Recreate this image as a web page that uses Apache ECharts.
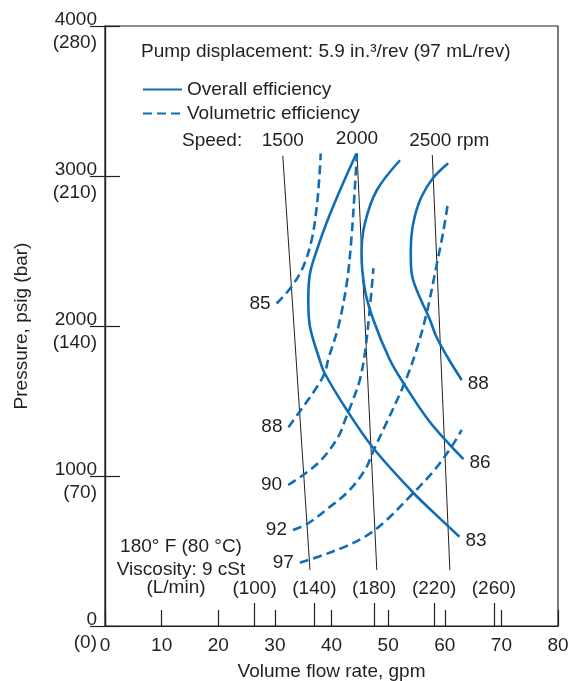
<!DOCTYPE html>
<html><head><meta charset="utf-8">
<script src="https://cdn.jsdelivr.net/npm/echarts@6/dist/echarts.min.js"></script>
<style>html,body{margin:0;padding:0;background:#fff}#c{width:569px;height:681px}</style>
</head><body><div id="c"></div>
<script>
// ---- data (gpm, psig) ----
const overall83 = [[44.4,3150],[41.5,2905],[39.1,2685],[37.4,2505],[36.2,2350],[35.9,2175],[36.2,1995],[37.9,1775],[38.8,1685],[42.7,1440],[47.4,1185],[54.4,890],[58.2,751],[62.6,595]];
const overall86 = [[52.1,3105],[48.0,2905],[45.9,2685],[45.3,2485],[45.9,2240],[47.4,2040],[50.3,1775],[52.7,1620],[57.1,1373],[60.9,1207],[63.3,1113]];
const overall88 = [[60.6,3085],[57.9,2985],[55.9,2862],[54.7,2730],[54.1,2595],[54.0,2462],[54.4,2307],[57.4,2040],[58.5,1930],[60.6,1785],[63.0,1640]];
const vol85 = [[30.3,2150],[32.9,2260],[35.0,2395],[36.5,2575],[37.4,2795],[37.9,3020],[38.1,3150]];
const vol88 = [[32.4,1325],[34.4,1430],[37.1,1575],[38.8,1685],[39.4,1775],[41.2,1995],[42.7,2285],[43.5,2575],[44.1,2905],[44.5,3150]];
const vol90 = [[32.35,940],[35.0,1007],[38.2,1107],[41.2,1262],[42.4,1373],[43.8,1507],[45.0,1640],[45.9,1820],[46.8,2130],[47.4,2385]];
const vol92 = [[33.2,640],[35.9,685],[39.4,785],[42.9,895],[45.9,1040],[47.6,1185],[49.4,1329],[52.9,1620],[55.0,1840],[56.8,2085],[58.5,2395],[59.7,2620],[60.6,2830]];
const vol97 = [[34.4,422],[37.7,462],[42.4,529],[45.9,595],[49.4,695],[54.4,885],[58.2,1040],[61.2,1195],[63.0,1307]];
const speed1500 = [[36.2,373],[31.4,3135]];
const speed2000 = [[48.0,373],[44.5,3150]];
const speed2500 = [[60.9,373],[57.8,3140]];
const speedLabels = ['1500','2000','2500 rpm'];
const overallLabels = ['83','86','88'];
const volLabels = ['85','88','90','92','97'];
const psiTicks = [0,1000,2000,3000,4000];
const barLabels = ['(0)','(70)','(140)','(210)','(280)'];
const lpmTicks = [100,140,180,220,260];
const LPM_PER_GPM = 3.7854;

const BLUE = '#0f6db5';
const INK = '#231f20';
const FONT = 'Liberation Sans';
const FS = 19;

function curve(name, pts, dashed, text, at) {
  return {
    type: 'line', name: name, smooth: 0.35, symbol: 'circle', symbolSize: 0, showSymbol: true,
    silent: true, animation: false,
    lineStyle: { color: BLUE, width: 2.6, type: dashed ? [9,5] : 'solid' },
    itemStyle: { color: BLUE },
    label: { show: false, color: INK, fontSize: FS, fontFamily: FONT },
    data: pts.map((p, i) => {
      const lab = (at === 'start' && i === 0) || (at === 'end' && i === pts.length - 1);
      return lab ? { value: p, label: { show: true, formatter: text,
        position: at === 'start' ? 'left' : 'right', distance: 6, offset: at === 'end' ? [0,4] : [0,0] } } : { value: p };
    })
  };
}
function speedLine(pts, text, off) {
  return {
    type: 'line', name: 'speed', symbol: 'circle', symbolSize: 0, showSymbol: true, silent: true, animation: false,
    lineStyle: { color: INK, width: 1 }, itemStyle: { color: INK },
    label: { show: false, color: INK, fontSize: FS, fontFamily: FONT },
    data: pts.map((p, i) => i === pts.length - 1 ?
      { value: p, label: { show: true, position: 'top', distance: 5, formatter: text, offset: off } } : { value: p })
  };
}

const series = [
  speedLine(speed1500, speedLabels[0], [0,0]),
  speedLine(speed2000, speedLabels[1], [0,0]),
  speedLine(speed2500, speedLabels[2], [17,0]),
  curve('Overall efficiency', overall83, false, overallLabels[0], 'end'),
  curve('Overall efficiency', overall86, false, overallLabels[1], 'end'),
  curve('Overall efficiency', overall88, false, overallLabels[2], 'end'),
  curve('Volumetric efficiency', vol85, true, volLabels[0], 'start'),
  curve('Volumetric efficiency', vol88, true, volLabels[1], 'start'),
  curve('Volumetric efficiency', vol90, true, volLabels[2], 'start'),
  curve('Volumetric efficiency', vol92, true, volLabels[3], 'start'),
  curve('Volumetric efficiency', vol97, true, volLabels[4], 'start')
];

const txt = { color: INK, fontSize: FS, fontFamily: FONT };
const axLine = { show: true, lineStyle: { color: INK, width: 1.2 } };

const option = {
  animation: false,
  backgroundColor: '#fff',
  title: { text: 'Pump displacement: 5.9 in.\u00b3/rev (97 mL/rev)', left: 141, top: 42, padding: 0,
    textStyle: { color: INK, fontSize: FS, fontWeight: 'normal', fontFamily: FONT } },
  legend: { data: ['Overall efficiency','Volumetric efficiency'], orient: 'vertical', left: 142, top: 80, padding: 0,
    itemWidth: 39, itemHeight: 18, itemGap: 5, selectedMode: false, itemStyle: { opacity: 0 },
    textStyle: Object.assign({ lineHeight: 19 }, txt) },
  grid: { left: 105, right: 11, top: 26, bottom: 55, show: true, borderColor: INK, borderWidth: 1.2,
    containLabel: false, outerBoundsMode: 'none' },
  xAxis: [
    { type: 'value', min: 0, max: 80, interval: 10, position: 'bottom',
      axisLine: axLine, axisTick: { inside: true, length: 16, lineStyle: { color: INK, width: 1.2 } },
      axisLabel: Object.assign({ margin: 10 }, txt), splitLine: { show: false },
      name: 'Volume flow rate, gpm', nameLocation: 'middle', nameGap: 36, nameTextStyle: txt },
    { type: 'value', min: 0, max: 80 * LPM_PER_GPM, position: 'bottom',
      axisLine: { show: false },
      axisTick: { show: true, inside: true, length: 23, customValues: lpmTicks, lineStyle: { color: INK, width: 1.2 } },
      axisLabel: Object.assign({ inside: true, margin: 28, customValues: lpmTicks, formatter: v => '(' + v + ')' }, txt),
      splitLine: { show: false } }
  ],
  yAxis: [
    { type: 'value', min: 0, max: 4000, interval: 1000, position: 'left',
      axisLine: axLine, axisTick: { inside: true, length: 15, lineStyle: { color: INK, width: 1.2 } },
      axisLabel: Object.assign({ margin: 8, lineHeight: 23,
        rich: { s: { fontSize: 6, lineHeight: 10 } },
        formatter: v => '{s| }\n' + v + '\n' + barLabels[psiTicks.indexOf(v)] }, txt),
      splitLine: { show: false },
      name: 'Pressure, psig (bar)', nameLocation: 'middle', nameGap: 74, nameRotate: 90, nameTextStyle: txt },
    { type: 'value', min: 0, max: 4000, interval: 1000, position: 'right',
      axisLine: axLine, axisTick: { inside: true, length: 15, lineStyle: { color: INK, width: 1.2 } },
      axisLabel: { show: false }, splitLine: { show: false } }
  ],
  graphic: [
    { type: 'text', x: 182, y: 141, silent: true, style: { text: 'Speed:', font: FS + 'px "' + FONT + '"', fill: INK, align: 'left', verticalAlign: 'middle', textAlign: 'left', textVerticalAlign: 'middle' } },
    { type: 'text', x: 181, y: 547, silent: true, style: { text: '180\u00b0 F (80 \u00b0C)', font: FS + 'px "' + FONT + '"', fill: INK, align: 'center', verticalAlign: 'middle', textAlign: 'center', textVerticalAlign: 'middle' } },
    { type: 'text', x: 181, y: 570, silent: true, style: { text: 'Viscosity: 9 cSt', font: FS + 'px "' + FONT + '"', fill: INK, align: 'center', verticalAlign: 'middle', textAlign: 'center', textVerticalAlign: 'middle' } },
    { type: 'text', x: 176, y: 588, silent: true, style: { text: '(L/min)', font: FS + 'px "' + FONT + '"', fill: INK, align: 'center', verticalAlign: 'middle', textAlign: 'center', textVerticalAlign: 'middle' } }
  ],
  series: series
};
const chart = echarts.init(document.getElementById('c'));
chart.setOption(option);
</script>
</body></html>
